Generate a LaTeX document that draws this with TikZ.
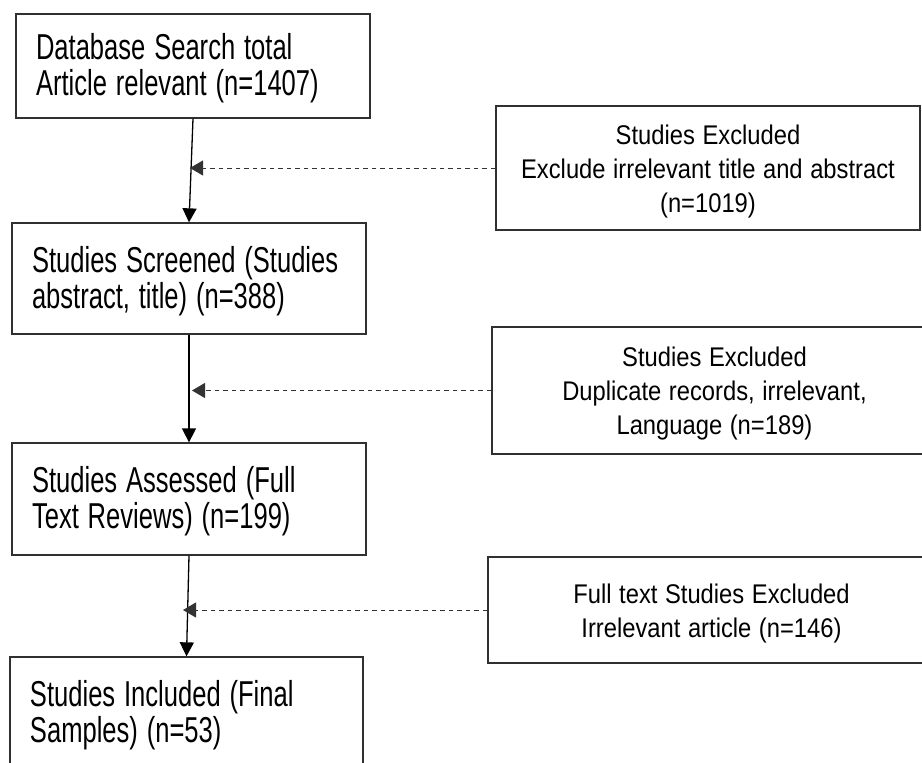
\documentclass[tikz,border=0pt]{standalone}
\usepackage{fontspec}
\setmainfont{Liberation Sans}
\newfontfamily\lfont[FakeStretch=0.71,WordSpace=1.25]{Liberation Sans}
\newfontfamily\rfont[FakeStretch=0.88,WordSpace=1.15]{Liberation Sans}
\usetikzlibrary{arrows.meta}
\definecolor{edge}{HTML}{303030}
\tikzset{
  lbox/.style={draw=edge, line width=1.3pt, inner xsep=20pt, inner ysep=0pt,
    align=flush left, text height=31pt,
    font=\lfont\fontsize{36}{36}\selectfont},
  rbox/.style={draw=edge, line width=1.3pt, inner sep=0pt,
    align=flush center, text height=25.7pt,
    font=\rfont\fontsize{27}{34}\selectfont},
  arr/.style={draw=black, line width=1.3pt, -{Triangle[length=14pt,width=14pt]}},
  dasharr/.style={draw=black!80, line width=1pt, dash pattern=on 4.5pt off 4pt,
    -{Triangle[length=13pt,width=15pt]}}
}
\begin{document}
\begin{tikzpicture}[x=1pt,y=-1pt]
\useasboundingbox (0,0) rectangle (922,763);
\fill[white] (0,0) rectangle (922,763);
\clip (0,0) rectangle (922,763);
% left column
\node[lbox, minimum width=354pt, minimum height=104pt, text width=314pt] (b1) at (193,66)
  {Database Search total\\Article relevant (n=1407)};
\node[lbox, minimum width=354pt, minimum height=111pt, text width=314pt] (b2) at (189,278.5)
  {Studies Screened (Studies\\abstract, title) (n=388)};
\node[lbox, minimum width=354pt, minimum height=112pt, text width=314pt] (b3) at (189,499)
  {Studies Assessed (Full\\Text Reviews) (n=199)};
\node[lbox, minimum width=353pt, minimum height=112pt, text width=313pt] (b4) at (186.5,713)
  {Studies Included (Final\\Samples) (n=53)};
% right column
\node[rbox, minimum width=424pt, minimum height=124pt, text width=420pt] (e1) at (708,168)
  {Studies Excluded\\Exclude irrelevant title and abstract\\(n=1019)};
\node[rbox, minimum width=445pt, minimum height=127pt, text width=440pt] (e2) at (714.5,390.5)
  {Studies Excluded\\Duplicate records, irrelevant,\\Language (n=189)};
\node[rbox, minimum width=447pt, minimum height=106pt, text width=440pt] (e3) at (711.5,610)
  {Full text Studies Excluded\\Irrelevant article (n=146)};
% tip positions of the dashed arrows
\coordinate (t1) at (190,0);
\coordinate (t2) at (192,0);
\coordinate (t3) at (183,0);
% main flow
\draw[arr] (b1.south) -- (b2.north);
\draw[arr] (b2.south) -- (b3.north);
\draw[arr] (b3.south) -- (b4.north);
% exclusions
\draw[dasharr] (e1.west) -- (e1.west -| t1);
\draw[dasharr] (e2.west) -- (e2.west -| t2);
\draw[dasharr] (e3.west) -- (e3.west -| t3);
\end{tikzpicture}
\end{document}
